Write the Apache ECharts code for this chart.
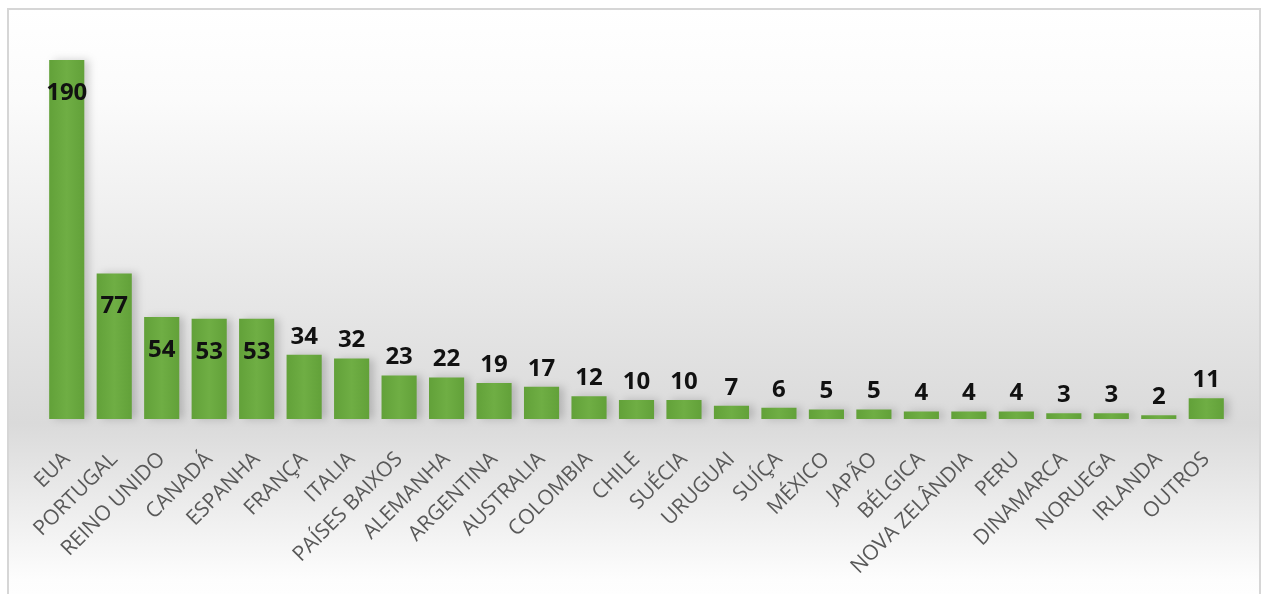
<!DOCTYPE html>
<html>
<head>
<meta charset="utf-8">
<script src="https://cdn.jsdelivr.net/npm/echarts@6/dist/echarts.min.js"></script>
<style>
html,body{margin:0;padding:0;background:#ffffff;}
#chart{width:1266px;height:594px;}
</style>
</head>
<body>
<div id="chart"></div>
<script>
var categories = ["EUA","PORTUGAL","REINO UNIDO","CANADÁ","ESPANHA","FRANÇA","ITALIA","PAÍSES BAIXOS","ALEMANHA","ARGENTINA","AUSTRALIA","COLOMBIA","CHILE","SUÉCIA","URUGUAI","SUÍÇA","MÉXICO","JAPÃO","BÉLGICA","NOVA ZELÂNDIA","PERU","DINAMARCA","NORUEGA","IRLANDA","OUTROS"];
var values = [190,77,54,53,53,34,32,23,22,19,17,12,10,10,7,6,5,5,4,4,4,3,3,2,11];

var chart = echarts.init(document.getElementById('chart'), null, {renderer:'canvas'});

var barColor = new echarts.graphic.LinearGradient(0,0,1,0,[
  {offset:0,color:'#62a139'},
  {offset:0.5,color:'#6fae44'},
  {offset:1,color:'#62a139'}
]);

var seriesData = values.map(function(v){
  var inside = v >= 50;
  return {
    value: v,
    label: {
      position: inside ? 'insideTop' : 'top',
      distance: inside ? 21 : 6
    }
  };
});

var option = {
  animation: false,
  backgroundColor: '#ffffff',
  graphic: [{
    type: 'rect',
    z: -10,
    silent: true,
    shape: {x: 8, y: 9, width: 1252, height: 600},
    style: {
      fill: new echarts.graphic.LinearGradient(0,0,0,1,[
        {offset:0,color:'#ffffff'},
        {offset:0.15,color:'#fbfbfb'},
        {offset:0.69,color:'#dadada'},
        {offset:0.95,color:'#fdfdfd'},
        {offset:1,color:'#ffffff'}
      ]),
      stroke: '#d6d6d6',
      lineWidth: 2
    }
  }],
  grid: {left: 43, right: 36, top: 41, bottom: 175, containLabel: false},
  xAxis: {
    type: 'category',
    data: categories,
    axisLine: {show: false},
    axisTick: {show: false},
    axisLabel: {
      rotate: 45,
      margin: 37,
      interval: 0,
      color: '#595959',
      fontFamily: 'Open Sans',
      fontSize: 21
    }
  },
  yAxis: {
    type: 'value',
    min: 0,
    max: 200,
    show: false,
    splitLine: {show: false}
  },
  series: [{
    type: 'bar',
    data: seriesData,
    barCategoryGap: '26%',
    itemStyle: {
      color: barColor,
      shadowColor: 'rgba(0,0,0,0.18)',
      shadowBlur: 8,
      shadowOffsetX: 5,
      shadowOffsetY: 0
    },
    label: {
      show: true,
      color: '#111111',
      fontFamily: 'Open Sans',
      fontWeight: 'bold',
      fontSize: 24
    }
  }]
};
chart.setOption(option);
</script>
</body>
</html>
